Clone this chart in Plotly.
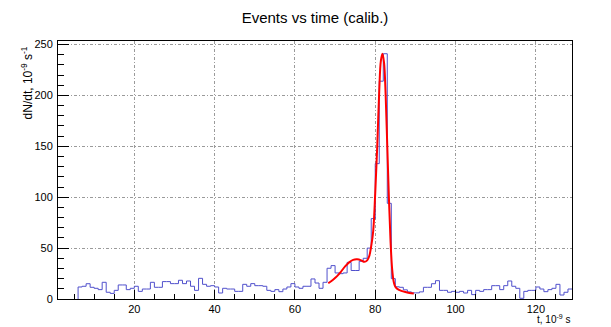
import plotly.graph_objects as go

# Histogram: bins of width 1 starting at t = 6 (units of 1e-9 s)
bin_start = 6
bin_width = 1
counts = [
    11.8, 12.5, 15.0, 11.5, 10.5, 9.2, 16.4, 6.6, 5.5, 8.5,      # 6-15
    13.8, 13.8, 9.2, 10.5, 12.5, 7.5, 9.8, 9.8, 16.4, 11.5,      # 16-25
    11.5, 17.1, 17.1, 15.1, 15.1, 18.4, 15.1, 17.7, 12.5, 8.5,   # 26-35
    20.3, 14.4, 12.5, 13.1, 11.8, 5.9, 10.5, 9.8, 9.8, 7.5,      # 36-45
    7.5, 14.4, 12.5, 15.1, 13.1, 13.1, 12.5, 8.5, 7.5, 9.2,      # 46-55
    7.2, 9.8, 11.8, 15.1, 11.8, 10.5, 12.5, 12.5, 19.7, 15.7,    # 56-65
    10.5, 16.4, 30.2, 32.8, 25.6, 24.9, 25.6, 36.0, 28.0, 28.0,  # 66-75
    37.0, 40.0, 50.0, 79.0, 133.0, 214.0, 241.0, 94.0, 20.0, 12.0,  # 76-85
    11.5, 9.0, 7.0, 6.0, 6.0, 7.0, 11.5, 11.5, 15.0, 18.0,       # 86-95
    8.5, 8.5, 6.6, 7.5, 6.6, 7.5, 5.9, 8.5, 4.3, 8.5,            # 96-105
    7.5, 9.2, 9.2, 13.1, 13.1, 9.2, 13.1, 17.7, 12.5, 10.5,      # 106-115
    0.7, 7.5, 8.5, 8.5, 11.8, 9.8, 7.2, 9.2, 10.5, 14.4,         # 116-125
    3.9, 6.6, 9.8,                                               # 126-128
]

# Fit curve
fit_x = [68.3, 69.5, 70.5, 71.5, 72.5, 73.5, 74.5, 75.5, 76.5, 77.3,
         78.0, 78.5, 79.0, 79.5, 80.0, 80.5, 81.0, 81.4, 81.8, 82.2,
         82.6, 83.0, 83.4, 83.8, 84.2, 84.6, 85.0, 85.5, 86.5, 87.5,
         88.5, 89.6]
fit_y = [15.5, 19.0, 22.5, 27.0, 32.0, 36.0, 38.5, 39.0, 38.0, 36.5,
         38.0, 42.0, 52.0, 67.0, 104.0, 150.0, 205.0, 234.0, 241.0, 232.0,
         200.0, 150.0, 100.0, 58.0, 30.0, 17.0, 12.0, 10.0, 8.0, 6.8,
         6.0, 5.5]

x_range = [1, 129]
y_range = [0, 253.5]

edges = [bin_start + i * bin_width for i in range(len(counts) + 1)]
hx = [edges[0]] + edges
hy = [0] + counts + [counts[-1]]

fig = go.Figure()
fig.add_trace(go.Scatter(x=hx, y=hy, mode="lines", line=dict(shape="hv", color="#5050cc", width=1),
                         hoverinfo="skip"))
fig.add_trace(go.Scatter(x=fit_x, y=fit_y, mode="lines", line=dict(shape="spline", color="red", width=2),
                         hoverinfo="skip"))

grid = dict(showgrid=True, gridcolor="#9a9a9a", gridwidth=1, griddash="3px,2px,1px,2px",
            showline=True, mirror=True, linecolor="black", linewidth=1, zeroline=False,
            ticks="inside", tickcolor="black")

fig.update_xaxes(range=x_range, tick0=0, dtick=20, ticklen=9, ticklabelstandoff=0,
                 minor=dict(dtick=5, tick0=0, ticklen=5, ticks="inside", tickcolor="black", showgrid=False),
                 **grid)
fig.update_yaxes(range=y_range, tick0=0, dtick=50, ticklen=11, ticklabelstandoff=2,
                 minor=dict(dtick=10, tick0=0, ticklen=6, ticks="inside", tickcolor="black", showgrid=False),
                 **grid)

fig.update_layout(
    width=611, height=327,
    margin=dict(l=58, r=39, t=41, b=28),
    paper_bgcolor="white", plot_bgcolor="white",
    showlegend=False,
    font=dict(family="Liberation Sans, Arial, sans-serif", size=11, color="black"),
    title=dict(text="Events vs time (calib.)", x=0.5, xref="paper", xanchor="center",
               y=1 - 18 / 327, yref="container", yanchor="middle",
               font=dict(size=15, color="black")),
    annotations=[
        dict(text="t, 10<sup>-9</sup> s", xref="paper", yref="paper", x=1, y=(299 - 327) / 258,
             xanchor="right", yanchor="bottom", showarrow=False, font=dict(size=10)),
        dict(text="dN/dt, 10<sup>-9</sup> s<sup>-1</sup>", xref="paper", yref="paper",
             x=(27 - 58) / 513, y=1 - 3 / 258, xanchor="center", yanchor="top",
             textangle=-90, showarrow=False, font=dict(size=12)),
    ],
)

fig.write_html("out.html")
